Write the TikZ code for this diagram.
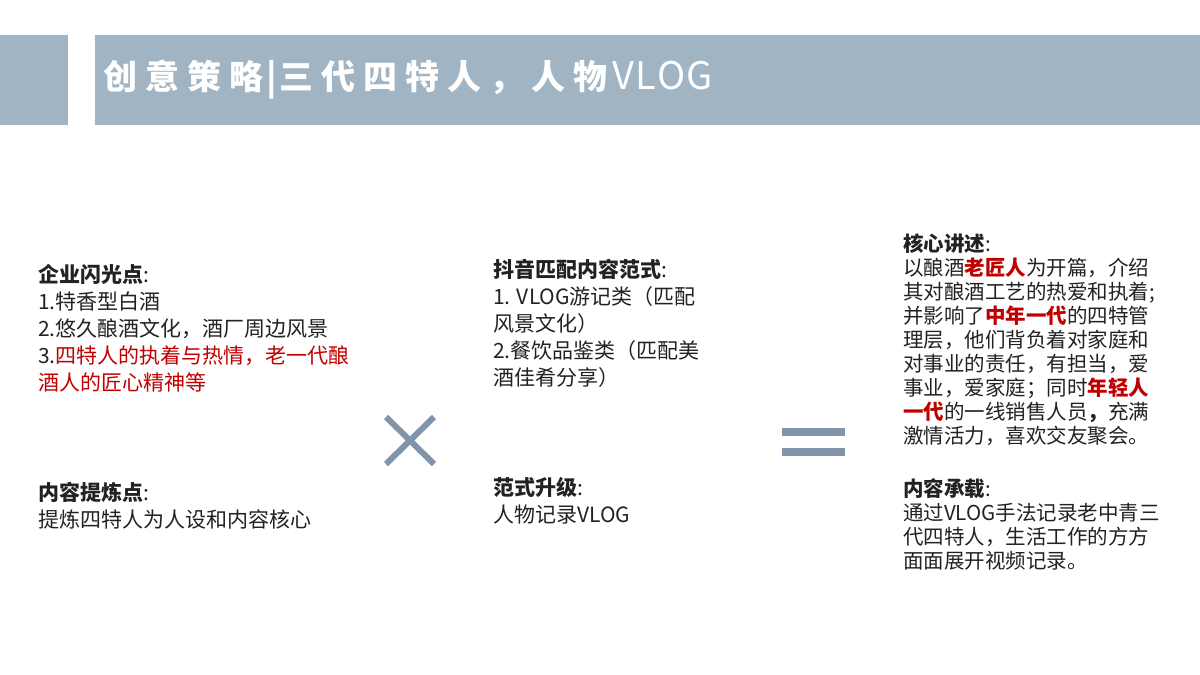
\documentclass[tikz,border=0pt]{standalone}
\usepackage{fontspec}
\setmainfont{Noto Sans CJK SC}
\definecolor{bar}{HTML}{A0B4C3}
\definecolor{sym}{HTML}{8095AA}
\definecolor{hl}{HTML}{C00000}
\definecolor{tx}{HTML}{222222}
\begin{document}
\begin{tikzpicture}[x=1pt,y=-1pt,
  blk/.style={anchor=north west,inner sep=0pt,align=left,text=tx}]
\useasboundingbox (0,0) rectangle (1200,675);
\fill[white] (0,0) rectangle (1200,675);
\fill[bar] (0,35) rectangle (68,125);
\fill[bar] (95,35) rectangle (1200,125);
\node[anchor=west,text=white,inner sep=0pt,font=\fontsize{34}{38}\selectfont\bfseries] (title) at (103,80)
  {创\hspace{8pt}意\hspace{8pt}策\hspace{8pt}略\hspace{3pt}|\hspace{3pt}三\hspace{8pt}代\hspace{8pt}四\hspace{8pt}特\hspace{8pt}人\hspace{8pt}，\hspace{8pt}人\hspace{8pt}物\hspace{5pt}\normalfont\fontsize{38}{40}\selectfont V\hspace{1pt}L\hspace{1pt}O\hspace{1pt}G};
\node[blk,font=\fontsize{21}{27}\selectfont] (b1) at (38,264)
  {{\bfseries 企业闪光点}:\\1.特香型白酒\\2.悠久酿酒文化，酒厂周边风景\\3.\textcolor{hl}{四特人的执着与热情，老一代酿}\\\textcolor{hl}{酒人的匠心精神等}};
\node[blk,font=\fontsize{21}{27}\selectfont] (b2) at (38,482)
  {{\bfseries 内容提炼点}:\\提炼四特人为人设和内容核心};
\node[blk,font=\fontsize{21}{27}\selectfont] (b3) at (493,259)
  {{\bfseries 抖音匹配内容范式}:\\1. VLOG游记类（匹配\\风景文化）\\2.餐饮品鉴类（匹配美\\酒佳肴分享）};
\node[blk,font=\fontsize{21}{27}\selectfont] (b4) at (493,477)
  {{\bfseries 范式升级}:\\人物记录VLOG};
\node[blk,font=\fontsize{20.5}{24}\selectfont] (b5) at (903,234)
  {{\bfseries 核心讲述}:\\以酿酒\textcolor{hl}{\bfseries 老匠人}为开篇，介绍\\其对酿酒工艺的热爱和执着;\\并影响了\textcolor{hl}{\bfseries 中年一代}的四特管\\理层，他们背负着对家庭和\\对事业的责任，有担当，爱\\事业，爱家庭；同时\textcolor{hl}{\bfseries 年轻人}\\\textcolor{hl}{\bfseries 一代}的一线销售人员{\bfseries ，}充满\\激情活力，喜欢交友聚会。};
\node[blk,font=\fontsize{20.5}{24}\selectfont] (b6) at (903,478)
  {{\bfseries 内容承载}:\\通过VLOG手法记录老中青三\\代四特人，生活工作的方方\\面面展开视频记录。};
\coordinate (x1) at (386,417); \coordinate (x2) at (434,464);
\coordinate (x3) at (434,417); \coordinate (x4) at (386,464);
\draw[sym,line width=6pt] (x1) -- (x2);
\draw[sym,line width=6pt] (x3) -- (x4);
\fill[sym] (782,428) rectangle (845,436);
\fill[sym] (782,448) rectangle (845,456);
\end{tikzpicture}
\end{document}
